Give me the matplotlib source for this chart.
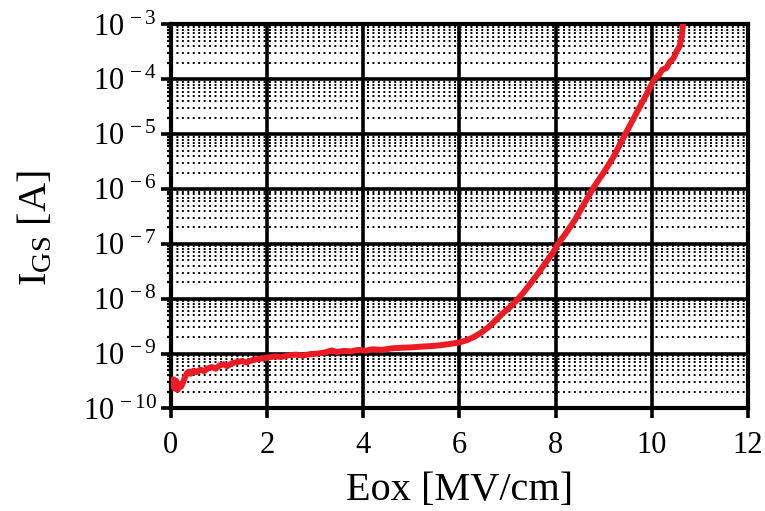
import matplotlib
matplotlib.use('Agg')
import matplotlib.pyplot as plt
from matplotlib.ticker import LogLocator, FixedLocator

plt.rcParams['font.family'] = ['Liberation Serif', 'DejaVu Serif']
plt.rcParams['mathtext.fontset'] = 'stix'

RED = '#ed1c24'

# gate leakage current vs oxide field
eox = [0.00, 0.03, 0.06, 0.09, 0.12, 0.15, 0.18, 0.22, 0.26, 0.30,
       0.34, 0.38, 0.42, 0.48, 0.55, 0.62, 0.70, 0.78, 0.86, 0.94,
       1.02, 1.10, 1.18, 1.28, 1.38, 1.48, 1.58, 1.70, 1.82, 1.95,
       2.05, 2.18, 2.30, 2.45, 2.60, 2.75, 2.90, 3.05, 3.20, 3.35,
       3.45, 3.60, 3.75, 3.90, 4.05, 4.20, 4.40, 4.60, 4.80, 5.00,
       5.20, 5.40, 5.60, 5.80, 6.00, 6.15, 6.30, 6.45, 6.60, 6.75,
       6.90, 7.05, 7.20, 7.35, 7.50, 7.65, 7.80, 7.95, 8.05, 8.20,
       8.40, 8.60, 8.80, 9.00, 9.20, 9.45, 9.70, 9.90, 10.05, 10.15,
       10.22, 10.30, 10.38, 10.45, 10.52, 10.58, 10.62, 10.65, 10.67]
igs = [3.0e-10, 2.6e-10, 3.4e-10, 2.3e-10, 3.2e-10, 2.2e-10, 2.8e-10, 2.5e-10, 3.0e-10, 3.7e-10,
       4.4e-10, 4.7e-10, 4.3e-10, 4.9e-10, 4.6e-10, 5.1e-10, 4.8e-10, 5.4e-10, 5.7e-10, 5.3e-10,
       6.1e-10, 6.4e-10, 5.9e-10, 6.7e-10, 7.0e-10, 7.3e-10, 6.9e-10, 7.6e-10, 8.0e-10, 8.2e-10,
       8.6e-10, 8.9e-10, 8.7e-10, 9.3e-10, 9.6e-10, 9.2e-10, 9.8e-10, 1.0e-9, 1.05e-9, 1.14e-9,
       1.07e-9, 1.12e-9, 1.10e-9, 1.17e-9, 1.13e-9, 1.20e-9, 1.17e-9, 1.25e-9, 1.28e-9, 1.30e-9,
       1.34e-9, 1.37e-9, 1.42e-9, 1.50e-9, 1.60e-9, 1.75e-9, 2.0e-9, 2.4e-9, 3.0e-9, 4.0e-9,
       5.4e-9, 7.0e-9, 9.5e-9, 1.35e-8, 2.0e-8, 3.0e-8, 4.6e-8, 7.0e-8, 1.0e-7, 1.5e-7,
       2.7e-7, 5.5e-7, 1.1e-6, 2.0e-6, 3.8e-6, 1.0e-5, 2.6e-5, 5.5e-5, 1.0e-4, 1.2e-4,
       1.5e-4, 1.6e-4, 2.1e-4, 2.4e-4, 3.3e-4, 4.0e-4, 6.0e-4, 1.0e-3, 1.5e-3]

x_ticks = [0, 2, 4, 6, 8, 10, 12]
y_decades = [-10, -9, -8, -7, -6, -5, -4, -3]

fig = plt.figure(figsize=(7.65, 5.11), dpi=100)
ax = fig.add_axes([0.2229, 0.2006, 0.7549, 0.7515])

ax.plot(eox, igs, color=RED, linewidth=4.3, zorder=3)

ax.set_yscale('log')
ax.set_xlim(0, 12)
ax.set_ylim(1e-10, 1e-3)

ax.xaxis.set_major_locator(FixedLocator(x_ticks))
ax.yaxis.set_major_locator(FixedLocator([10.0 ** d for d in y_decades]))
ax.yaxis.set_minor_locator(LogLocator(base=10, subs=range(2, 10), numticks=20))
ax.set_xticklabels([str(t) for t in x_ticks])
ax.set_yticklabels([r'$\mathregular{10^{\,%d}}$' % d for d in y_decades])
ax.yaxis.set_minor_formatter(plt.NullFormatter())

ax.grid(True, which='major', color='black', linewidth=2.6, linestyle='-')
ax.grid(True, which='minor', axis='y', color='black', linewidth=1.4,
        linestyle=(0, (1, 1.8)))

for side in ['left', 'right', 'top', 'bottom']:
    ax.spines[side].set_linewidth(3)

ax.tick_params(axis='both', which='major', direction='out', length=7,
               width=2.6, labelsize=22)
ax.tick_params(axis='x', which='major', pad=9)
ax.tick_params(axis='y', which='major', pad=3)
ax.tick_params(axis='y', which='minor', direction='out', length=3, width=1.6)

ax.set_xlabel('Eox [MV/cm]', fontsize=29)
ax.set_ylabel(r'$\mathregular{I_{GS}}$ [A]', fontsize=29)
ax.xaxis.set_label_coords(0.5, -0.165)
ax.yaxis.set_label_coords(-0.2, 0.47)

fig.savefig('out.png', dpi=100)
